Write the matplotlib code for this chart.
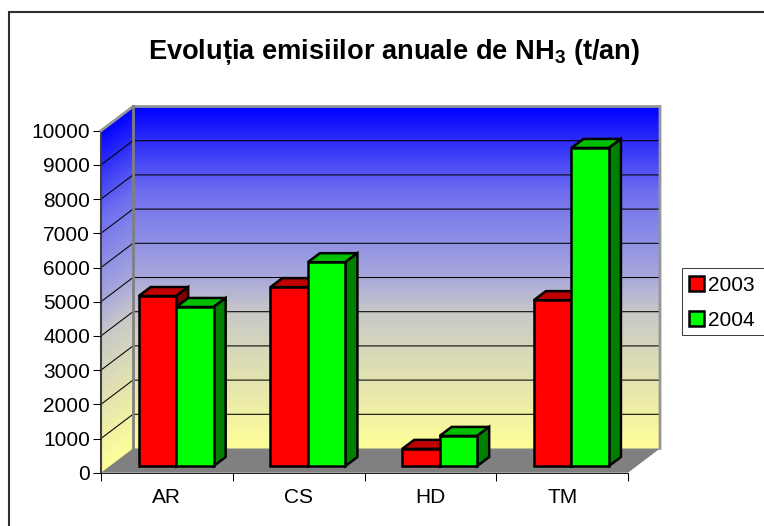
#!/usr/bin/env python3

import numpy as np
import matplotlib
matplotlib.use("Agg")
import matplotlib.pyplot as plt
from matplotlib.colors import LinearSegmentedColormap
from matplotlib.lines import Line2D
from matplotlib.patches import Patch, Polygon, Rectangle
from matplotlib.transforms import Affine2D

categories = ["AR", "CS", "HD", "TM"]
years = ["2003", "2004"]
values_2003 = [4970, 5230, 500, 4850]
values_2004 = [4650, 5960, 880, 9300]
y_ticks = list(range(0, 10001, 1000))

plt.rcParams["font.family"] = ["Liberation Sans", "DejaVu Sans"]
plt.rcParams["mathtext.fontset"] = "custom"
plt.rcParams["mathtext.rm"] = "Liberation Sans:bold"
plt.rcParams["mathtext.default"] = "rm"

W, H = 764, 526
fig = plt.figure(figsize=(W/100, H/100), dpi=100)

# front plane of the fake 3d box, in image pixels
left, right, top, bottom = 101, 628, 130.7, 472.7
ax = fig.add_axes([left/W, 1-bottom/H, (right-left)/W, (bottom-top)/H])
ax.set_xlim(0, 4)
ax.set_ylim(0, 10000)
ax.patch.set_visible(False)

px_x = 4/(right-left)
px_y = 10000/(bottom-top)
wall_dx = 32*px_x
wall_dy = 24.2*px_y
bar_w = 37.5*px_x
bar_shift = 9.3*px_x
bar_base = 6.7*px_y
bar_dx = 12*px_x
bar_dy = 9*px_y

grad = LinearSegmentedColormap.from_list("wall", [
    (0.0, "#0000ff"), (0.25, "#6e6ef0"), (0.5, "#a8a8dc"),
    (0.6, "#c8c8c8"), (1.0, "#ffff99")])
ramp = np.linspace(0, 1, 256).reshape(-1, 1)

# back wall
ax.imshow(ramp, cmap=grad, aspect="auto", origin="upper", zorder=1, clip_on=False,
          extent=(wall_dx, 4+wall_dx, wall_dy, 10000+wall_dy))
# side wall, image sheared along the depth direction
side = ax.imshow(ramp, cmap=grad, aspect="auto", origin="upper", zorder=1, clip_on=False,
                 extent=(0, 1, 0, 1))
side.set_transform(Affine2D(np.array([[wall_dx, 0, 0], [wall_dy, 10000, 0], [0, 0, 1]])) + ax.transData)
ax.set_xlim(0, 4)
ax.set_ylim(0, 10000)

# floor
ax.add_patch(Polygon([(0, 0), (4, 0), (4+wall_dx, wall_dy), (wall_dx, wall_dy)],
                     fc="#808080", ec="none", zorder=2, clip_on=False))

for v in y_ticks[1:]:
    ax.plot([0, wall_dx, 4+wall_dx], [v, v+wall_dy, v+wall_dy], color="black", lw=0.75, zorder=2,
            clip_on=False, solid_joinstyle="miter")

# wall edges
ax.plot([0, wall_dx, 4+wall_dx, 4+wall_dx], [10000, 10000+wall_dy, 10000+wall_dy, wall_dy],
        color="#969696", lw=2, zorder=3, clip_on=False, solid_joinstyle="miter")
ax.plot([wall_dx, wall_dx], [wall_dy, 10000+wall_dy], color="#808080", lw=2, zorder=3, clip_on=False)

series = [(values_2003, "#ff0000", "#c00000", "#800000"),
          (values_2004, "#00ff00", "#00c000", "#008000")]
z = 4
for i in range(len(categories)):
    for s, (vals, front, lid, shade) in enumerate(series):
        x0 = i+0.5+bar_shift-bar_w+s*bar_w
        x1 = x0+bar_w
        y0 = bar_base
        y1 = bar_base+vals[i]
        kw = dict(ec="black", lw=1.8, clip_on=False, joinstyle="miter")
        ax.add_patch(Polygon([(x0, y1), (x1, y1), (x1+bar_dx, y1+bar_dy), (x0+bar_dx, y1+bar_dy)],
                             fc=lid, zorder=z, **kw))
        ax.add_patch(Polygon([(x1, y0), (x1+bar_dx, y0+bar_dy), (x1+bar_dx, y1+bar_dy), (x1, y1)],
                             fc=shade, zorder=z, **kw))
        ax.add_patch(Rectangle((x0, y0), bar_w, vals[i], fc=front, zorder=z+1, **kw))
        z += 2

for name in ["top", "right"]:
    ax.spines[name].set_visible(False)
ax.spines["left"].set_color("#404040")
ax.spines["left"].set_linewidth(1.5)
ax.spines["bottom"].set_color("#202020")
ax.spines["bottom"].set_linewidth(0.75)
ax.set_axisbelow(False)

ax.set_yticks(y_ticks)
ax.set_yticklabels([str(v) for v in y_ticks])
ax.set_xticks(range(5))
ax.set_xticklabels([])
ax.set_xticks([i+0.5 for i in range(4)], categories, minor=True)
ax.tick_params(axis="y", length=6, width=0.75, labelsize=15, pad=2)
ax.tick_params(axis="x", which="major", length=6, width=0.75)
ax.tick_params(axis="x", which="minor", length=0, labelsize=15, pad=11)


def fx(p):
    return p/W


def fy(p):
    return 1-p/H


fig.add_artist(Line2D([fx(9), fx(9), fx(W+5)], [fy(H+5), fy(12), fy(12)], color="#303030", lw=1.5,
                      solid_joinstyle="miter"))
fig.add_artist(Rectangle((fx(682), fy(335)), fx(100), 67/H, fc="white", ec="#404040", lw=0.75,
                         transform=fig.transFigure))

handles = [Patch(fc="#ff0000", ec="black", lw=1.8), Patch(fc="#00ff00", ec="black", lw=1.8)]
fig.legend(handles, years, loc="upper left", bbox_to_anchor=(fx(682), fy(269)), frameon=False, fontsize=15,
           borderaxespad=0, borderpad=0.32, handlelength=0.72, handleheight=0.72, handletextpad=0.2,
           labelspacing=0.78)

fig.text(fx(394.5), fy(52), "Evoluția emisiilor anuale de NH$_3$ (t/an)", ha="center", va="center",
         fontsize=19.6, fontweight="bold")

fig.savefig("out.png", dpi=100)
